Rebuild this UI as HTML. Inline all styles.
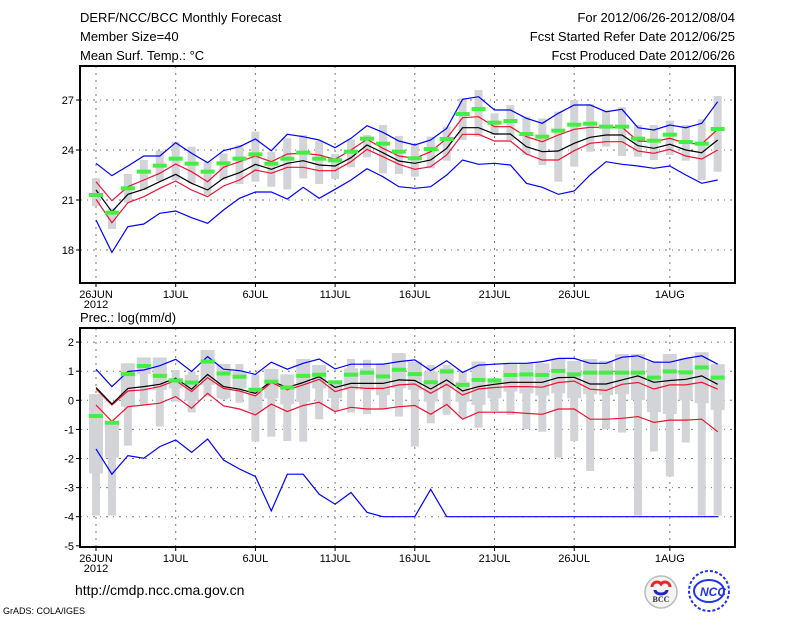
<!DOCTYPE html>
<html><head><meta charset="utf-8">
<style>
html,body{margin:0;padding:0;background:#fff;}
svg{display:block;font-family:"Liberation Sans",sans-serif;}
</style></head>
<body>
<svg id="chart" width="800" height="618" viewBox="0 0 800 618" xmlns="http://www.w3.org/2000/svg">
<g font-size="13" fill="#000">
<text x="80" y="22">DERF/NCC/BCC Monthly Forecast</text>
<text x="80" y="41">Member Size=40</text>
<text x="80" y="60">Mean Surf. Temp.: °C</text>
<text x="735" y="22" text-anchor="end">For 2012/06/26-2012/08/04</text>
<text x="735" y="41" text-anchor="end">Fcst Started Refer Date 2012/06/25</text>
<text x="735" y="60" text-anchor="end">Fcst Produced Date 2012/06/26</text>
<text x="80" y="322">Prec.: log(mm/d)</text>
<text x="75" y="595" font-size="14">http://cmdp.ncc.cma.gov.cn</text>
<text x="3" y="614" font-size="9">GrADS: COLA/IGES</text>
</g>
<g>
<circle cx="661" cy="592" r="16" fill="#f4f4f4" stroke="#bbb" stroke-width="1.5"/>
<path d="M652 587 a5 5 0 0 1 9 -3 a5 5 0 0 1 9 3" fill="none" stroke="#e22" stroke-width="3"/>
<path d="M655 590 a6 4 0 0 0 12 0" fill="none" stroke="#22c" stroke-width="3"/>
<text x="661" y="602" font-size="8" text-anchor="middle" font-weight="bold" fill="#333" font-family="Liberation Serif,serif">BCC</text>
</g>
<g>
<circle cx="709" cy="591" r="20" fill="none" stroke="#2233ee" stroke-width="2" stroke-dasharray="3,2"/>
<ellipse cx="709" cy="591" rx="15" ry="11" fill="none" stroke="#2233ee" stroke-width="2"/>
<text x="713" y="596" font-size="12" text-anchor="middle" font-weight="bold" font-style="italic" fill="#2233ee">NCC</text>
</g>
<g id="topPanel"></g>
<g id="botPanel"></g>
</svg>
<script>
var days = [];
for (var i = 0; i < 40; i++) days.push(i);
var xTickDays = [0,5,10,15,20,25,30,36];
var xTickLabels = ["26JUN","1JUL","6JUL","11JUL","16JUL","21JUL","26JUL","1AUG"];
// ---- temperature panel
var tTicks = [18,21,24,27];
var tBlueHi = [23.2,22.46,23.04,23.64,23.64,24.44,23.8,23.24,23.96,24.2,24.66,23.96,24.94,24.8,24.6,24.14,24.7,25.46,25.06,24.54,24.3,24.6,25.3,27.04,27.2,26.4,26.4,25.9,25.6,26.2,26.7,26.7,26.3,26.44,25.34,25.2,25.5,25.34,25.6,26.9];
var tRedHi = [22.1,20.96,21.8,22.2,22.6,23.16,22.7,22.1,22.96,23.3,23.64,23.3,23.76,23.8,23.7,23.44,24,24.64,24.1,23.64,23.5,23.9,24.7,25.94,26,25.4,25.4,24.8,24.5,24.9,25.24,25.36,25.36,25.36,24.54,24.5,24.7,24.4,24.36,25.24];
var tMean = [21.6,20.3,21.34,21.64,22.1,22.54,22,21.6,22.3,22.64,23.14,22.84,23.2,23.36,23.1,23.04,23.54,24.3,23.84,23.34,23.2,23.4,24.1,25.34,25.34,24.96,24.96,24.2,23.9,23.94,24.4,24.76,24.9,24.9,24.26,24.1,24.34,24,23.84,24.6];
var tRedLo = [21.04,19.64,20.84,21.2,21.7,22.14,21.6,21.2,21.84,22.2,22.8,22.6,22.96,22.96,22.76,22.76,23.3,24.04,23.6,23.14,22.84,23,23.7,24.94,24.94,24.54,24.54,23.76,23.4,23.4,23.96,24.4,24.5,24.5,23.94,23.8,24.04,23.64,23.46,24];
var tBlueLo = [19.8,17.86,19.4,19.56,20.2,20.34,19.94,19.6,20.4,21.1,21.48,21.48,21.06,21.76,21.1,21.64,22.2,22.88,22.4,21.8,21.7,21.8,22.5,23.4,23.14,23.2,23.1,22,21.76,21.34,21.54,22.5,23.3,23.14,23.04,22.9,23.04,22.5,22,22.2];
var tGreen = [21.3,20.24,21.7,22.7,23.06,23.48,23.18,22.7,23.2,23.48,23.74,23.18,23.48,23.84,23.48,23.38,23.9,24.68,24.38,23.9,23.5,24.06,24.66,26.16,26.46,25.64,25.74,24.96,24.8,25.16,25.52,25.58,25.4,25.4,24.68,24.56,24.92,24.48,24.38,25.26];
var tBarHi = [22.3,20.5,22.56,23.4,23.96,24.5,24.2,23.3,23.8,24.3,25.1,23.9,24.7,24.9,24.54,23.76,24.64,24.9,25.5,24.84,24.3,24.8,25.4,27.1,27.6,26.2,26.7,26,25.9,26.3,27,26.76,26.36,26.56,25.5,25.5,25.76,25.5,25.84,27.24];
var tBarLo = [20.64,19.26,20.84,21.6,22.14,22.2,22,21.3,22.2,21.96,22.1,21.8,21.64,22.3,21.96,22.26,22.96,23.56,22.6,22.56,22.4,22.9,23.36,24.6,24.8,24.9,24.6,23.7,23.1,22.1,23,23.9,24.2,23.64,23.6,23.4,23.7,23.36,22.2,22.7];
// ---- precipitation panel
var pTicks = [-5,-4,-3,-2,-1,0,1,2];
var pBlueHi = [1.07,0.47,0.99,1.04,1.19,1.41,0.99,1.5,1.07,1.02,0.89,1.31,1.07,1.27,1.42,1.08,1.24,1.24,1.24,1.33,1.39,1.02,1.36,0.96,1.21,1.24,1.27,1.27,1.33,1.44,1.44,1.27,1.27,1.48,1.53,1.31,1.31,1.44,1.53,1.24];
var pRedHi = [0.39,-0.16,0.32,0.36,0.47,0.68,0.3,0.78,0.41,0.32,0.15,0.61,0.36,0.53,0.72,0.3,0.45,0.41,0.41,0.53,0.56,0.24,0.55,0.18,0.39,0.44,0.47,0.47,0.45,0.61,0.66,0.38,0.34,0.55,0.61,0.39,0.53,0.53,0.62,0.38];
var pMean = [0.44,-0.13,0.41,0.47,0.55,0.76,0.38,0.89,0.47,0.38,0.24,0.66,0.44,0.61,0.81,0.44,0.58,0.58,0.58,0.7,0.68,0.39,0.7,0.32,0.47,0.55,0.62,0.62,0.62,0.78,0.79,0.56,0.56,0.7,0.84,0.62,0.68,0.72,0.84,0.55];
var pRedLo = [-0.16,-0.73,-0.22,-0.16,-0.1,0.13,-0.27,0.24,-0.19,-0.3,-0.5,-0.13,-0.39,-0.18,-0.07,-0.39,-0.24,-0.3,-0.3,-0.22,-0.18,-0.48,-0.14,-0.65,-0.41,-0.41,-0.41,-0.45,-0.48,-0.3,-0.3,-0.65,-0.65,-0.62,-0.56,-0.76,-0.68,-0.68,-0.65,-1.08];
var pBlueLo = [-1.67,-2.54,-1.9,-1.99,-1.59,-1.36,-1.79,-1.33,-2.05,-2.36,-2.62,-3.8,-2.54,-2.54,-3.23,-3.57,-3.17,-3.85,-4,-4,-4,-3.06,-4,-4,-4,-4,-4,-4,-4,-4,-4,-4,-4,-4,-4,-4,-4,-4,-4,-4];
var pGreen = [-0.54,-0.77,0.9,1.18,0.84,0.68,0.61,1.33,0.92,0.81,0.36,0.64,0.44,0.84,0.88,0.62,0.88,0.95,0.82,1.05,0.9,0.62,0.99,0.53,0.7,0.68,0.87,0.89,0.87,1.01,0.89,0.95,0.95,0.95,0.95,0.78,0.99,0.96,1.13,0.78];
var pBarHi = [0.21,-0.77,1.27,1.47,1.47,1.04,0.99,1.73,1.25,1.25,0.89,1.08,0.89,1.42,1.21,0.66,1.42,1.39,1.27,1.62,1.33,1.21,1.21,0.99,1.33,0.76,1.27,1.27,1.27,1.44,1.35,1.42,1.35,1.59,1.59,1.35,1.59,1.44,1.65,1.24];
var pBarLo = [-3.96,-3.96,-1.56,-0.14,-0.9,-0.05,-0.42,0.13,0.03,-0.08,-1.42,-1.25,-1.4,-1.42,-0.65,-0.37,-0.42,-0.47,-0.3,-0.56,-1.59,-0.79,-0.5,-0.62,-0.94,-0.37,-0.5,-0.99,-1.08,-1.97,-1.4,-2.43,-0.99,-1.11,-3.96,-1.76,-2.62,-1.45,-3.96,-3.96];
var pBoxHi = [0.21,-0.77,1.27,1.47,1.47,0.76,0.87,1.73,1.25,0.99,0.44,1.08,0.89,1.42,1.21,0.66,1.1,1.1,1.27,1.62,1.33,0.99,1.1,0.64,1.33,0.76,1.27,1.27,1.27,1.44,1.35,1.42,1.35,1.59,1.59,1.35,1.59,1.44,1.65,1.24];
var pBoxLo = [-2.51,-1.97,-0.22,0.9,0.36,0.41,-0.01,0.53,0.07,0.41,-0.37,0.07,-0.14,-0.05,0.41,0.07,0.36,0.36,0.18,0.41,0.36,-0.05,0.41,-0.05,-0.16,0.07,0.3,0.24,0.16,0.24,0.07,0.21,0.18,0.21,0.01,-0.41,-0.47,0.0,-0.1,-0.33];

var NS = "http://www.w3.org/2000/svg";
function mk(parent, tag, attrs){
  var e = document.createElementNS(NS, tag);
  for (var k in attrs) e.setAttribute(k, attrs[k]);
  parent.appendChild(e);
  return e;
}
var X0 = 96, DX = 15.94;
function xDay(d){ return X0 + d * DX; }

function drawPanel(g, cfg){
  var L = 80, R = 735, T = cfg.top, B = cfg.bottom;
  var y = cfg.y;
  for (var i = 0; i < xTickDays.length; i++){
    var gx = mk(g, "line", {x1:xDay(xTickDays[i]), x2:xDay(xTickDays[i]), y1:T, y2:B, stroke:"#777", "stroke-width":1, "stroke-dasharray":"2,5"});
    
    
  }
  for (var i = 0; i < cfg.ticks.length; i++){
    var ty = y(cfg.ticks[i]);
    if (ty > T + 2 && ty < B - 2){
      var gl = mk(g, "line", {x1:L, x2:R, y1:ty, y2:ty, stroke:"#777", "stroke-width":1, "stroke-dasharray":"2,5,1,5"});
      
      
    }
    var tk = mk(g, "line", {x1:L-4, x2:L, y1:ty, y2:ty, stroke:"#000", "stroke-width":1});
    
    
    var tl = mk(g, "text", {x:L-6, y:ty+4, "font-size":11, "text-anchor":"end"});
    tl.textContent = cfg.ticks[i];
    
    
  }
  for (var d = 0; d < days.length; d++){
    var cx = xDay(days[d]);
    var b1 = mk(g, "rect", {x:cx-4, y:y(cfg.barHi[d]), width:8, height:Math.max(1, y(cfg.barLo[d]) - y(cfg.barHi[d])), fill:"#d3d4d8"});
    
    
    if (cfg.boxHi){
      var b2 = mk(g, "rect", {x:cx-7, y:y(cfg.boxHi[d]), width:14, height:Math.max(1, y(cfg.boxLo[d]) - y(cfg.boxHi[d])), fill:"#d3d4d8"});
      
      
    }
  }
  var series = [[cfg.blueLo,"#0000ff","lower-envelope"],[cfg.blueHi,"#0000ff","upper-envelope"],[cfg.redLo,"#ee1133","lower-spread"],[cfg.redHi,"#ee1133","upper-spread"],[cfg.mean,"#000","ensemble-mean"]];
  for (var s = 0; s < series.length; s++){
    var pts = [];
    for (var d = 0; d < days.length; d++) pts.push(xDay(days[d]).toFixed(1) + "," + y(series[s][0][d]).toFixed(1));
    var pl = mk(g, "polyline", {points:pts.join(" "), fill:"none", stroke:series[s][1], "stroke-width":1.2});
    
    
  }
  for (var d = 0; d < days.length; d++){
    var gm = mk(g, "rect", {x:xDay(days[d])-7, y:y(cfg.green[d])-2, width:14, height:4, fill:"#44ee44"});
    
    
  }
  var fr = mk(g, "rect", {x:L, y:T, width:R-L, height:B-T, fill:"none", stroke:"#000", "stroke-width":2});
  
  
  for (var i = 0; i < xTickDays.length; i++){
    var xx = xDay(xTickDays[i]);
    var xt = mk(g, "line", {x1:xx, x2:xx, y1:B, y2:B+4, stroke:"#000", "stroke-width":1});
    
    
    var xl = mk(g, "text", {x:xx, y:B+15, "font-size":11, "text-anchor":"middle"});
    xl.textContent = xTickLabels[i];
    
    
  }
  var yr = mk(g, "text", {x:xDay(0), y:B+25, "font-size":11, "text-anchor":"middle"});
  yr.textContent = "2012";
  
  
}

var topG = document.getElementById("topPanel");


drawPanel(topG, {top:66, bottom:283, ticks:tTicks, y:function(v){ return 150 - (v - 24) * 16.67; },
  blueHi:tBlueHi, redHi:tRedHi, mean:tMean, redLo:tRedLo, blueLo:tBlueLo, green:tGreen, barHi:tBarHi, barLo:tBarLo});

var botG = document.getElementById("botPanel");


drawPanel(botG, {top:328, bottom:547, ticks:pTicks, y:function(v){ return 400.3 - v * 29.1; },
  blueHi:pBlueHi, redHi:pRedHi, mean:pMean, redLo:pRedLo, blueLo:pBlueLo, green:pGreen, barHi:pBarHi, barLo:pBarLo, boxHi:pBoxHi, boxLo:pBoxLo});
</script>
</body></html>
